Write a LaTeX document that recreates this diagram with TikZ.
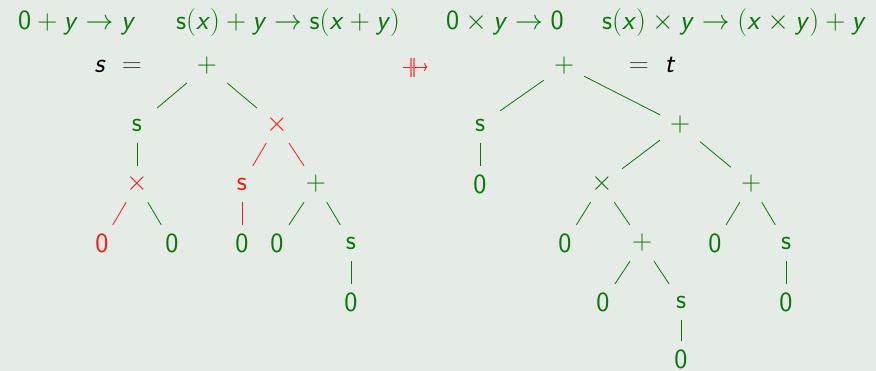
\RequirePackage{fix-cm}
\documentclass[tikz,border=0pt]{standalone}
\usetikzlibrary{arrows.meta}
\definecolor{bg}{RGB}{229,236,229}
\definecolor{dg}{RGB}{12,118,12}
\definecolor{rd}{RGB}{255,25,25}
\definecolor{eqg}{RGB}{70,70,70}
\newcommand{\Vs}[1]{\mbox{\sffamily\slshape #1\/}}
\newcommand{\Cs}[1]{\mbox{\sffamily #1}}
\begin{document}
\begin{tikzpicture}[x=1pt,y=-1pt,
  every node/.style={font=\fontsize{27.8}{33}\selectfont, inner sep=0pt},
  hdr/.style={text=dg, anchor=base west},
  lbl/.style={anchor=base},
  tn/.style={rectangle, minimum width=40pt, minimum height=36pt, inner sep=0pt, text=dg},
  tr/.style={tn, text=rd},
  eg/.style={draw=dg, line width=0.8pt},
  er/.style={draw=rd, line width=0.8pt}]
\fill[bg] (0,0) rectangle (876,371);
\useasboundingbox (0,0) rectangle (876,371);
% header rules
\node[hdr] (h1) at (18,30) {$\Cs{0}+\Vs{y}\rightarrow\Vs{y}$};
\node[hdr] (h2) at (176,30) {$\Cs{s}(\Vs{x})+\Vs{y}\rightarrow\Cs{s}(\Vs{x}+\Vs{y})$};
\node[hdr] (h3) at (446,30) {$\Cs{0}\times\Vs{y}\rightarrow\Cs{0}$};
\node[hdr] (h4) at (602,30) {$\Cs{s}(\Vs{x})\times\Vs{y}\rightarrow(\Vs{x}\times\Vs{y})+\Vs{y}$};
% labels
\node[lbl] (ls) at (100,73) {$\Vs{s}$};
\node[lbl, text=eqg] (le) at (132,73) {$=$};
\node[lbl, text=eqg] (re) at (639,73) {$=$};
\node[lbl] (rt) at (670,73) {$\Vs{t}$};
% not-rewrite arrow
\node[minimum width=24pt, minimum height=20pt] (nr) at (415,67) {};
\draw[rd, line width=0.9pt, -{To[length=3pt,width=8pt]}] (nr.west) -- (nr.east);
\draw[rd!65, line width=1.1pt] ([xshift=-4pt,yshift=-1pt]nr.north) -- ([xshift=-4pt]nr.south);
\draw[rd!65, line width=1.1pt] ([xshift=-1pt,yshift=-1pt]nr.north) -- ([xshift=-1pt]nr.south);
% left tree s
\node[tn] (A) at (207,66) {$+$};
\node[tn] (B) at (137,125) {$\Cs{s}$};
\node[tr] (C) at (277,125) {$\times$};
\node[tr] (D) at (137,184) {$\times$};
\node[tr] (E) at (102,243) {$\Cs{0}$};
\node[tn] (F) at (172,243) {$\Cs{0}$};
\node[tr] (G) at (242,184) {$\Cs{s}$};
\node[tn] (H) at (316,184) {$+$};
\node[tn] (I) at (242,243) {$\Cs{0}$};
\node[tn] (J) at (277,243) {$\Cs{0}$};
\node[tn] (K) at (351,243) {$\Cs{s}$};
\node[tn] (L) at (351,302) {$\Cs{0}$};
\draw[eg] (A) -- (B);
\draw[eg] (A) -- (C);
\draw[eg] (B) -- (D);
\draw[er] (D) -- (E);
\draw[eg] (D) -- (F);
\draw[er] (C) -- (G);
\draw[er] (C) -- (H);
\draw[er] (G) -- (I);
\draw[eg] (H) -- (J);
\draw[eg] (H) -- (K);
\draw[eg] (K) -- (L);
% right tree t
\node[tn] (P) at (564,66) {$+$};
\node[tn] (Q) at (480,125) {$\Cs{s}$};
\node[tn] (R) at (480,184) {$\Cs{0}$};
\node[tn] (S) at (680,125) {$+$};
\node[tn] (T) at (602,184) {$\times$};
\node[tn] (U) at (751,184) {$+$};
\node[tn] (V) at (565,243) {$\Cs{0}$};
\node[tn] (W) at (642,243) {$+$};
\node[tn] (X) at (715,243) {$\Cs{0}$};
\node[tn] (Y) at (786,243) {$\Cs{s}$};
\node[tn] (Z) at (786,302) {$\Cs{0}$};
\node[tn] (W1) at (603,302) {$\Cs{0}$};
\node[tn] (W2) at (681,302) {$\Cs{s}$};
\node[tn] (W3) at (681,359) {$\Cs{0}$};
\draw[eg] (P) -- (Q);
\draw[eg] (Q) -- (R);
\draw[eg] (P) -- (S);
\draw[eg] (S) -- (T);
\draw[eg] (S) -- (U);
\draw[eg] (T) -- (V);
\draw[eg] (T) -- (W);
\draw[eg] (U) -- (X);
\draw[eg] (U) -- (Y);
\draw[eg] (Y) -- (Z);
\draw[eg] (W) -- (W1);
\draw[eg] (W) -- (W2);
\draw[eg] (W2) -- (W3);
\end{tikzpicture}
\end{document}
